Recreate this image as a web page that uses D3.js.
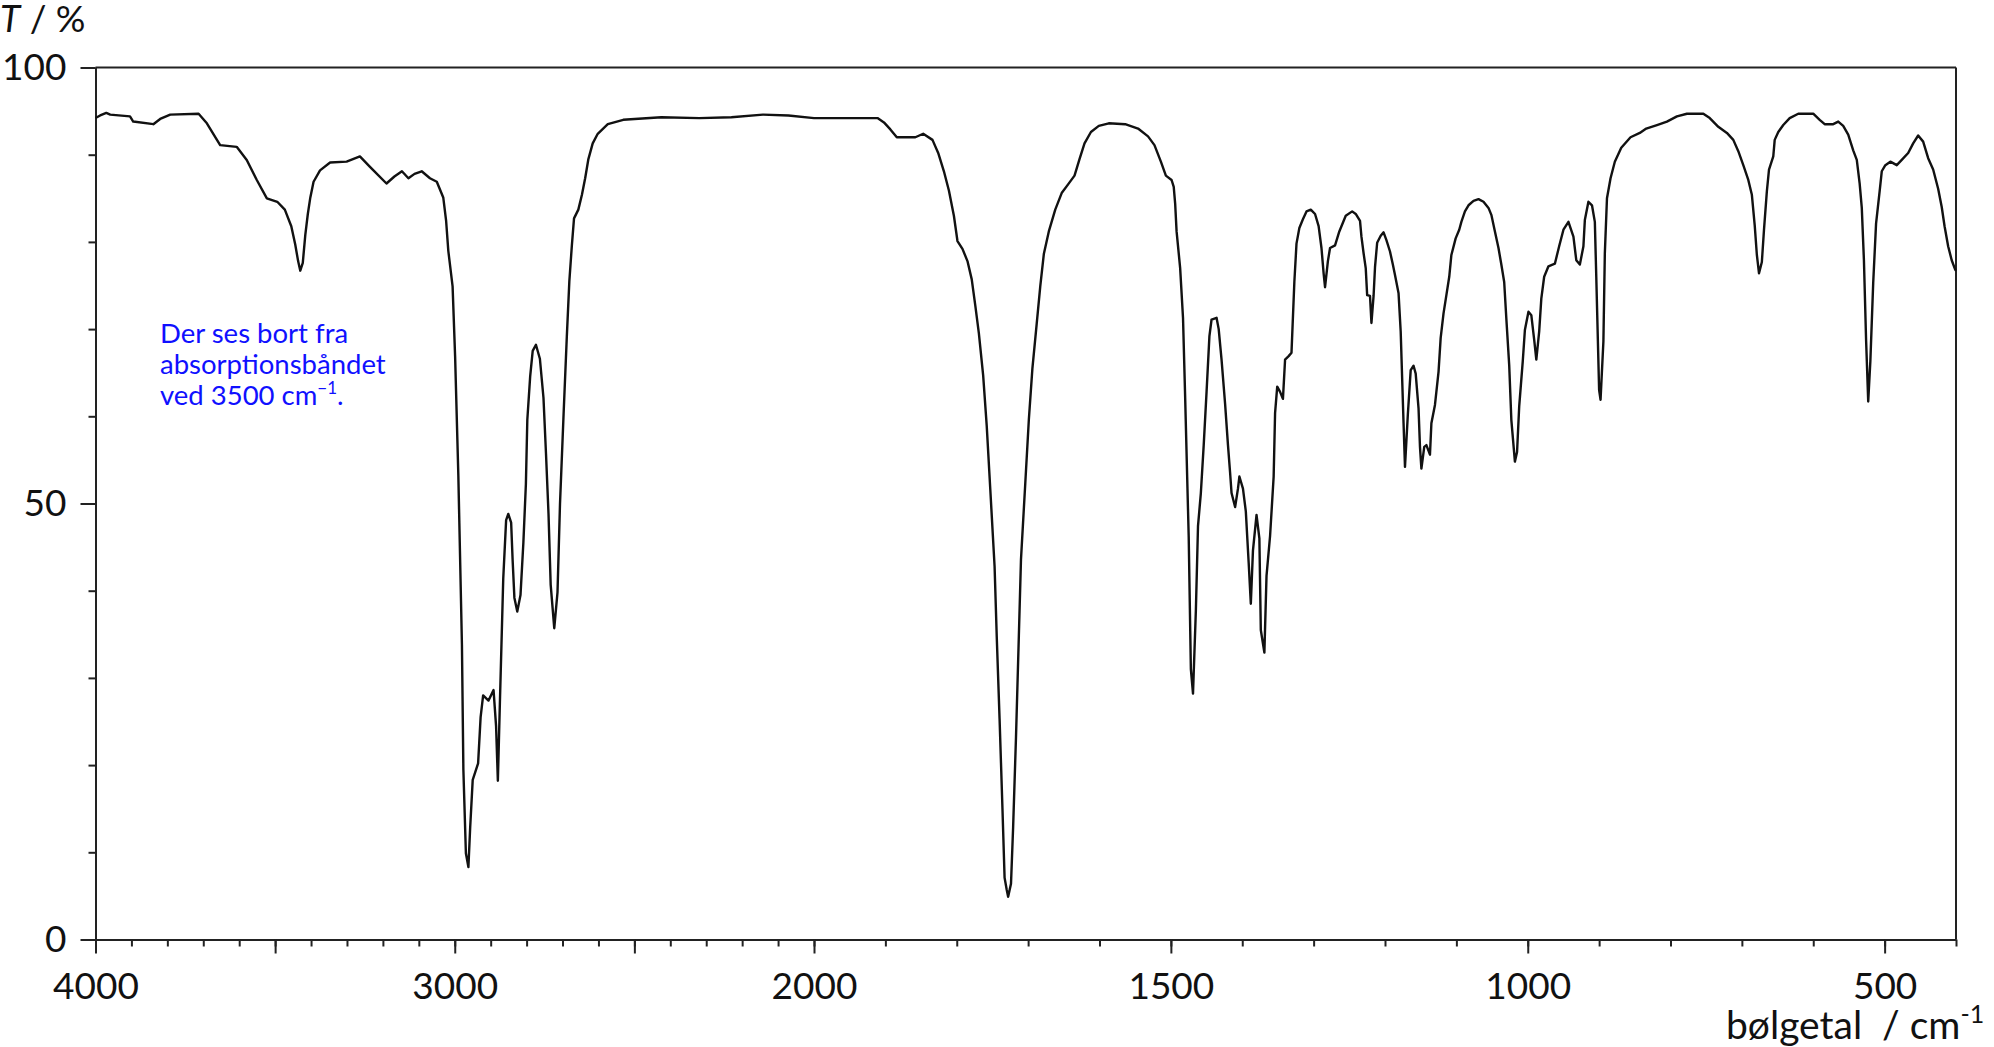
<!DOCTYPE html>
<html>
<head>
<meta charset="utf-8">
<script src="https://cdn.jsdelivr.net/npm/d3@7"></script>
<style>
  body { margin: 0; background: #fff; }
  svg { display: block; font-family: Lato, "Open Sans", sans-serif; }
  .axis path, .axis line { stroke: #222; stroke-width: 2; }
  .axis text { font-family: Lato, sans-serif; fill: #111; }
</style>
</head>
<body>
<div class="chart-wrapper"></div>
<script>
// IR spectrum, wavenumber (cm-1) against transmittance (%)
const wavenumbers = [
    4000, 3987, 3970, 3959, 3904, 3895, 3839, 3820, 3792, 3713, 3690, 3653, 3607, 3579, 3551, 3523,
    3494, 3473, 3455, 3444, 3436, 3430, 3423, 3416, 3409, 3402, 3393, 3375, 3347, 3301, 3264, 3236,
    3190, 3168, 3147, 3129, 3112, 3092, 3069, 3050, 3032, 3024, 3018, 3006, 2999, 2990, 2980, 2976,
    2969, 2962, 2957, 2950, 2935, 2928, 2921, 2906, 2892, 2885, 2880, 2874, 2865, 2857, 2851, 2843,
    2839, 2834, 2826, 2817, 2809, 2802, 2798, 2790, 2783, 2774, 2763, 2753, 2746, 2739, 2733, 2723,
    2714, 2707, 2697, 2688, 2681, 2674, 2668, 2656, 2646, 2637, 2628, 2616, 2602, 2574, 2531, 2425,
    2319, 2230, 2142, 2071, 2000, 1911, 1902, 1893, 1884, 1858, 1847, 1834, 1826, 1818, 1811, 1804,
    1799, 1792, 1785, 1779, 1774, 1769, 1763, 1758, 1753, 1747, 1744, 1740, 1736, 1733, 1730, 1728,
    1724, 1721, 1717, 1713, 1710, 1704, 1699, 1694, 1688, 1683, 1678, 1671, 1662, 1653, 1644, 1635,
    1628, 1621, 1612, 1601, 1587, 1564, 1546, 1532, 1523, 1514, 1507, 1499, 1496, 1494, 1492, 1487,
    1483, 1480, 1475, 1472, 1469, 1465, 1462, 1458, 1454, 1450, 1446, 1443, 1436, 1433, 1429, 1424,
    1420, 1417, 1415, 1410, 1406, 1404, 1399, 1395, 1391, 1388, 1385, 1380, 1376, 1374, 1369, 1366,
    1361, 1356, 1354, 1351, 1347, 1343, 1340, 1335, 1331, 1327, 1324, 1320, 1315, 1310, 1304, 1298,
    1293, 1289, 1286, 1284, 1280, 1277, 1270, 1264, 1255, 1246, 1241, 1235, 1233, 1230, 1227, 1225,
    1221, 1219, 1216, 1214, 1211, 1206, 1202, 1198, 1193, 1189, 1186, 1181, 1178, 1174, 1172, 1168,
    1164, 1160, 1157, 1153, 1151, 1149, 1145, 1142, 1137, 1135, 1130, 1125, 1122, 1118, 1114, 1110,
    1107, 1101, 1096, 1093, 1088, 1083, 1076, 1069, 1062, 1055, 1051, 1046, 1041, 1037, 1033, 1030,
    1026, 1023, 1018, 1015, 1012, 1007, 1004, 999, 995, 991, 988, 984, 981, 977, 971, 962,
    956, 950, 943, 936, 932, 927, 922, 920, 915, 910, 906, 904, 900, 898, 894, 892,
    889, 884, 878, 869, 856, 843, 834, 819, 805, 791, 777, 754, 745, 733, 721, 712,
    705, 698, 691, 686, 682, 679, 676, 672, 669, 665, 662, 656, 654, 649, 642, 633,
    621, 600, 591, 584, 572, 565, 558, 551, 544, 539, 535, 532, 529, 526, 523, 520,
    516, 512, 507, 504, 499, 492, 483, 476, 467, 460, 453, 446, 439, 432, 425, 420,
    416, 411, 406, 401, 400
];
const transmittance = [
    94.2, 94.5, 94.8, 94.6, 94.4, 93.8, 93.5, 94.1, 94.6, 94.7, 93.6, 91.1, 90.9, 89.4, 87.1, 85.0,
    84.6, 83.7, 81.8, 79.7, 77.8, 76.7, 77.6, 80.8, 83.2, 85.1, 86.9, 88.2, 89.1, 89.2, 89.8, 88.6,
    86.7, 87.5, 88.1, 87.3, 87.8, 88.1, 87.3, 86.9, 85.1, 82.4, 79.0, 74.9, 66.9, 53.2, 33.8, 19.5,
    9.9, 8.3, 12.9, 18.3, 20.2, 25.5, 28.0, 27.4, 28.6, 24.5, 18.2, 27.7, 41.4, 48.1, 48.8, 47.8,
    43.6, 39.2, 37.6, 39.5, 45.5, 52.2, 59.6, 64.6, 67.5, 68.2, 66.6, 62.1, 55.7, 48.8, 40.7, 35.7,
    39.8, 50.0, 60.3, 69.2, 75.5, 79.6, 82.7, 83.7, 85.4, 87.3, 89.5, 91.3, 92.4, 93.5, 94.0, 94.3,
    94.2, 94.3, 94.6, 94.5, 94.2, 94.2, 93.7, 92.9, 92.0, 92.0, 92.4, 91.7, 90.2, 88.1, 85.9, 83.0,
    80.1, 79.2, 77.8, 75.7, 72.7, 69.5, 64.7, 58.9, 51.6, 42.8, 34.8, 25.3, 15.1, 7.1, 5.7, 4.9,
    6.4, 12.9, 23.2, 34.8, 43.6, 52.3, 59.6, 65.5, 70.6, 74.9, 78.6, 81.2, 83.7, 85.6, 86.6, 87.6,
    89.5, 91.3, 92.6, 93.3, 93.6, 93.5, 93.0, 92.1, 91.1, 89.2, 87.6, 87.1, 86.3, 84.4, 81.2, 77.0,
    71.3, 62.2, 46.1, 31.0, 28.2, 37.7, 47.4, 51.2, 56.7, 62.8, 69.2, 71.1, 71.3, 70.0, 66.5, 61.4,
    56.7, 53.5, 51.2, 49.6, 51.7, 53.1, 51.7, 49.1, 43.2, 38.5, 44.6, 48.7, 46.0, 35.5, 32.9, 41.7,
    46.3, 53.1, 60.4, 63.4, 62.8, 62.0, 66.5, 66.9, 67.3, 75.4, 79.8, 81.6, 82.6, 83.5, 83.7, 83.2,
    81.8, 79.3, 76.4, 74.8, 77.8, 79.3, 79.6, 81.2, 83.0, 83.5, 83.2, 82.4, 80.6, 78.7, 77.0, 73.9,
    73.8, 70.7, 73.8, 77.1, 79.9, 80.7, 81.1, 80.2, 78.9, 77.4, 76.2, 74.1, 69.7, 59.2, 54.2, 60.2,
    65.3, 65.8, 64.9, 60.9, 56.5, 54.0, 56.5, 56.7, 55.6, 59.2, 61.3, 65.1, 69.0, 71.8, 73.9, 76.0,
    78.5, 80.4, 81.4, 82.3, 83.5, 84.2, 84.7, 84.9, 84.6, 83.9, 83.1, 81.2, 79.3, 77.4, 75.4, 71.2,
    65.9, 59.6, 54.8, 55.9, 61.1, 66.3, 69.9, 72.0, 71.6, 68.8, 66.5, 69.7, 73.5, 76.0, 77.2, 77.5,
    79.5, 81.4, 82.3, 80.6, 77.9, 77.4, 79.5, 82.5, 84.6, 84.2, 82.3, 76.0, 63.0, 61.9, 68.6, 78.7,
    85.0, 87.3, 89.2, 90.8, 92.0, 92.5, 93.0, 93.4, 93.8, 94.4, 94.7, 94.7, 94.2, 93.2, 92.5, 91.7,
    90.4, 88.8, 87.1, 85.4, 81.9, 78.5, 76.4, 77.7, 81.4, 85.8, 88.3, 89.8, 91.7, 92.6, 93.4, 94.2,
    94.7, 94.7, 94.0, 93.5, 93.5, 93.8, 93.3, 92.3, 90.5, 89.4, 86.7, 83.9, 77.9, 68.8, 61.7, 66.3,
    75.3, 82.1, 85.8, 88.1, 88.8, 89.2, 88.8, 89.4, 90.2, 91.3, 92.2, 91.5, 89.6, 88.3, 86.1, 84.0,
    81.8, 79.5, 77.9, 76.8, 76.7
];
const xTickLabels = [4000, 3000, 2000, 1500, 1000, 500];
const yTickLabels = [0, 50, 100];

const width = 1994;
const height = 1047;
const plotLeft = 95.5;
const plotRight = 1956;
const plotTop = 67.5;
const plotBottom = 939.5;

let spectrum = wavenumbers.map((wn, index) => {
    return { wn: wn, t: transmittance[index] };
});

let canvas = d3.select('.chart-wrapper').append('svg')
    .attr('width', width)
    .attr('height', height);

// the axis is compressed by a factor 2 above 2000 cm-1
let x = d3.scaleLinear()
    .domain([4000, 2000, 400])
    .range([plotLeft, 814, plotRight]);

let y = d3.scaleLinear()
    .domain([0, 100])
    .range([plotBottom, plotTop]);

// top and right frame
canvas.append('line')
    .attr('x1', plotLeft).attr('x2', plotRight)
    .attr('y1', plotTop).attr('y2', plotTop)
    .attr('stroke', '#222').attr('stroke-width', 2);
canvas.append('line')
    .attr('x1', plotRight).attr('x2', plotRight)
    .attr('y1', plotTop).attr('y2', plotBottom)
    .attr('stroke', '#222').attr('stroke-width', 2);

// x axis: minor ticks every 100, long ticks every 500
canvas.append('g')
    .attr('class', 'axis')
    .attr('transform', `translate(0, ${plotBottom})`)
    .call(d3.axisBottom(x)
        .tickValues(d3.range(4000, 399, -100))
        .tickSizeInner(7)
        .tickSizeOuter(0)
        .tickFormat(''));

canvas.append('g')
    .attr('class', 'axis')
    .attr('transform', `translate(0, ${plotBottom})`)
    .call(d3.axisBottom(x)
        .tickValues(d3.range(4000, 499, -500))
        .tickSizeInner(14)
        .tickSizeOuter(0)
        .tickPadding(19)
        .tickFormat((d) => xTickLabels.includes(d) ? d : ''))
    .call((g) => g.select('.domain').remove())
    .selectAll('text')
    .attr('font-size', 37);

// y axis: minor ticks every 10, long ticks with labels
canvas.append('g')
    .attr('class', 'axis')
    .attr('transform', `translate(${plotLeft}, 0)`)
    .call(d3.axisLeft(y)
        .tickValues(d3.range(0, 101, 10))
        .tickSizeInner(7)
        .tickSizeOuter(0)
        .tickFormat(''));

canvas.append('g')
    .attr('class', 'axis')
    .attr('transform', `translate(${plotLeft}, 0)`)
    .call(d3.axisLeft(y)
        .tickValues(yTickLabels)
        .tickSizeInner(15)
        .tickSizeOuter(0)
        .tickPadding(14))
    .call((g) => g.select('.domain').remove())
    .selectAll('text')
    .attr('font-size', 37);

// spectrum
let line = d3.line()
    .x((d) => x(d.wn))
    .y((d) => y(d.t));

canvas.append('path')
    .datum(spectrum)
    .attr('d', line)
    .attr('fill', 'none')
    .attr('stroke', '#111')
    .attr('stroke-width', 2.4)
    .attr('stroke-linejoin', 'round');

// axis titles
let yTitle = canvas.append('text')
    .attr('x', 0)
    .attr('y', 32)
    .attr('font-size', 37)
    .attr('fill', '#111');
yTitle.append('tspan').attr('font-style', 'italic').text('T');
yTitle.append('tspan').text(' / %');

let xTitle = canvas.append('text')
    .attr('x', 1726)
    .attr('y', 1039)
    .attr('font-size', 39)
    .attr('fill', '#111')
    .style('white-space', 'pre');
xTitle.append('tspan').text('bølgetal  / cm');
xTitle.append('tspan').attr('dy', -16).attr('font-size', 25).text('-1');

// note
const noteLines = ['Der ses bort fra', 'absorptionsbåndet', 'ved 3500 cm'];
let note = canvas.append('text')
    .attr('x', 160)
    .attr('y', 343)
    .attr('font-size', 27.5)
    .attr('fill', '#1010ff');
noteLines.forEach((txt, index) => {
    note.append('tspan')
        .attr('x', 160)
        .attr('dy', index === 0 ? 0 : 31)
        .text(txt);
});
note.append('tspan').attr('dy', -11).attr('font-size', 17).text('−1');
note.append('tspan').attr('dy', 11).text('.');
</script>
</body>
</html>
